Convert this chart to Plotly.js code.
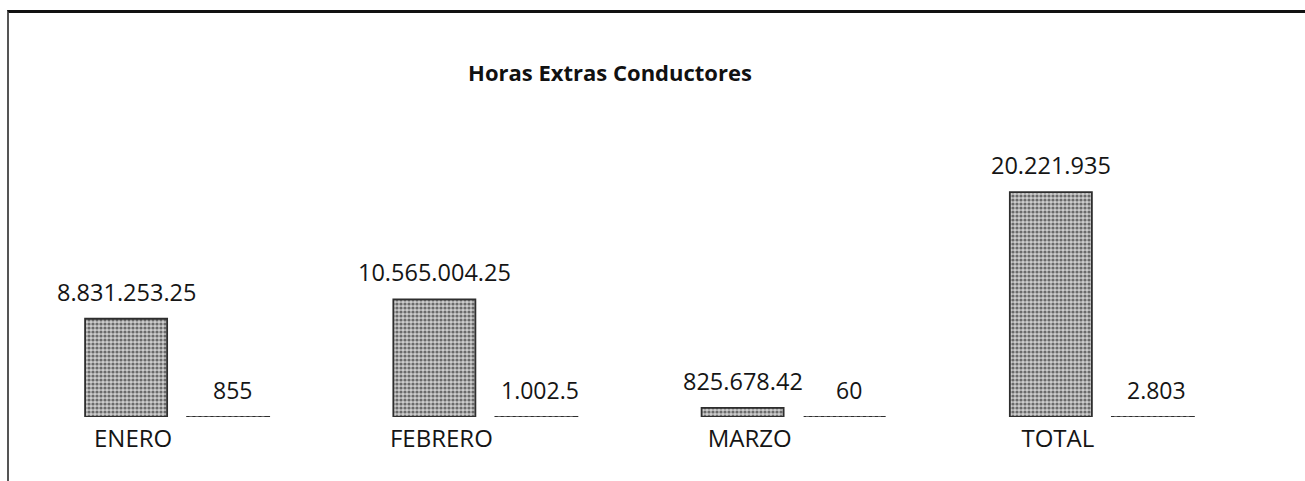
<!DOCTYPE html>
<html>
<head>
<meta charset="utf-8">
<script src="https://cdn.plot.ly/plotly-3.0.1.min.js"></script>
<style>
  html, body { margin: 0; padding: 0; background: #fff; }
  #wrap { position: relative; width: 1305px; height: 481px; overflow: hidden; }
  #frame { position: absolute; left: 7px; top: 10px; width: 1310px; height: 480px;
           border-top: 3px solid #111; border-left: 2px solid #555; box-sizing: border-box; }
  #chart { position: absolute; left: 0; top: 0; width: 1305px; height: 481px; }
</style>
</head>
<body>
<div id="wrap">
  <div id="frame"></div>
  <div id="chart"></div>
</div>
<script>
// ---- data ----
const categories = ["ENERO", "FEBRERO", "MARZO", "TOTAL"];
const valores = [8831253.25, 10565004.25, 825678.42, 20221935];   // importe horas extras
const horas = [855, 1002.5, 60, 2803];                              // horas extras
const chartTitle = "Horas Extras Conductores";

// format like the reference: "." for thousands and for decimals
function fmt(v) {
  const s = String(v);
  const parts = s.split(".");
  const intPart = parts[0].replace(/\B(?=(\d{3})+(?!\d))/g, ".");
  return parts.length > 1 ? intPart + "." + parts[1] : intPart;
}

const FONT = "Open Sans, Noto Sans, sans-serif";
const barMarker = {
  color: "#adadad",
  line: { color: "#2e2e2e", width: 1.8 },
  pattern: { shape: ".", fgcolor: "#6a6a6a", bgcolor: "#cdcdcd", size: 4, solidity: 0.5 }
};

const traces = [
  { type: "bar", x: categories, y: valores, name: "Importe", marker: barMarker, hoverinfo: "x+y" },
  { type: "bar", x: categories, y: horas, name: "Horas", marker: barMarker, hoverinfo: "x+y" }
];

const annotations = [];
categories.forEach((c, i) => {
  annotations.push({ x: c, y: valores[i], xref: "x", yref: "y", text: fmt(valores[i]),
    showarrow: false, xshift: -51, yshift: 27, yanchor: "middle",
    font: { family: FONT, size: 23.5, color: "#151515" } });
  annotations.push({ x: c, y: horas[i], xref: "x", yref: "y", text: fmt(horas[i]),
    showarrow: false, xshift: 55, yshift: 27, yanchor: "middle",
    font: { family: FONT, size: 23, color: "#151515" } });
});

// faint dotted outline where the tiny "horas" bars sit
const shapes = categories.map((c, i) => ({
  type: "line", xref: "x", yref: "y", x0: i + 0.04, x1: i + 0.29, y0: horas[i], y1: horas[i],
  line: { color: "#a0a0a0", width: 1, dash: "dot" }
}));

const layout = {
  width: 1305, height: 481,
  margin: { l: 23, r: 49, t: 150, b: 64 },
  paper_bgcolor: "rgba(0,0,0,0)",
  plot_bgcolor: "rgba(0,0,0,0)",
  title: { text: "<b>" + chartTitle + "</b>", x: 610 / 1305, xanchor: "center",
           y: 1 - 73 / 481, yanchor: "middle", xref: "container", yref: "container",
           font: { family: FONT, size: 22, color: "#111" } },
  barmode: "group",
  bargap: 0.338,
  bargroupgap: 0.196,
  showlegend: false,
  xaxis: { type: "category", showgrid: false, showline: false, zeroline: false, ticks: "",
           ticklabelshift: -44, ticklabelstandoff: 5,
           tickfont: { family: FONT, size: 24, color: "#151515" } },
  yaxis: { range: [0, 24000000], visible: false, showgrid: false, zeroline: false },
  annotations: annotations,
  shapes: shapes,
  font: { family: FONT }
};

Plotly.newPlot("chart", traces, layout, { displayModeBar: false, staticPlot: true });
</script>
</body>
</html>
